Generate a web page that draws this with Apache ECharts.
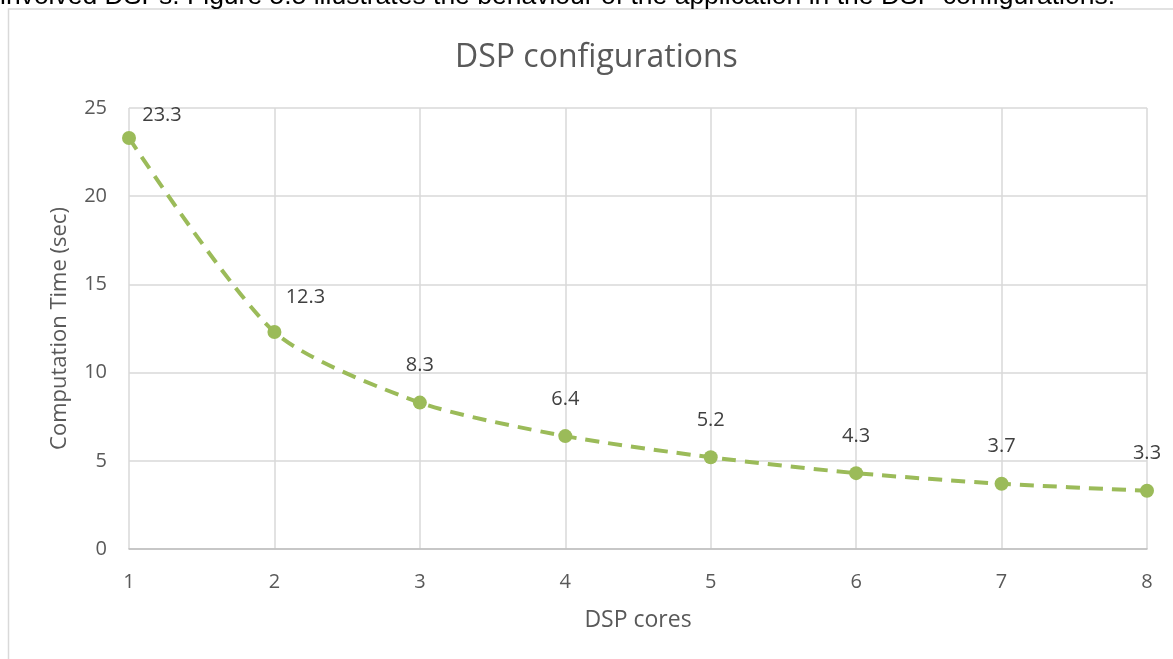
<!DOCTYPE html>
<html>
<head>
<meta charset="utf-8">
<script src="https://cdn.jsdelivr.net/npm/echarts@6/dist/echarts.min.js"></script>
<style>
html,body{margin:0;padding:0;background:#fff;}
#chart{width:1173px;height:659px;}
</style>
</head>
<body>
<div id="chart"></div>
<script>
var titleText = 'DSP configurations';
var caption = 'involved DSPs. Figure 5.5 illustrates the behaviour of the application in the DSP configurations.';
var categories = ['1', '2', '3', '4', '5', '6', '7', '8'];
var times = [23.3, 12.3, 8.3, 6.4, 5.2, 4.3, 3.7, 3.3];
var xName = 'DSP cores';
var yName = 'Computation Time (sec)';

var labelOffsets = [[33, 14], [31, 2], [0, 0], [0, 0], [0, 0], [0, 0], [0, 0], [0, 0]];
var seriesData = times.map(function (v, i) {
  return { value: v, label: { offset: labelOffsets[i] } };
});

var txt = '#595959';
var font = '"Open Sans", "Noto Sans", sans-serif';
var chart = echarts.init(document.getElementById('chart'));
chart.setOption({
  animation: false,
  backgroundColor: '#fff',
  title: {
    text: titleText,
    left: 450,
    top: 37,
    textStyle: { color: txt, fontSize: 32, fontWeight: 'normal', fontFamily: font }
  },
  graphic: [
    { type: 'rect', shape: { x: 8.5, y: 9, width: 1300, height: 800 },
      style: { fill: 'none', stroke: '#d9d9d9', lineWidth: 1.5 }, z: 0 },
    { type: 'text', left: 0, top: -17,
      style: { text: caption, font: '26.5px "Liberation Sans", Arial, sans-serif', fill: '#000' }, z: 10 }
  ],
  grid: { left: 129, right: 26, top: 108, bottom: 110 },
  xAxis: {
    type: 'category',
    data: categories,
    boundaryGap: false,
    name: xName,
    nameLocation: 'middle',
    nameGap: 60,
    nameTextStyle: { color: txt, fontSize: 23, fontFamily: font },
    axisLine: { show: true, lineStyle: { color: '#bfbfbf', width: 1.5 } },
    axisTick: { show: false },
    axisLabel: { color: txt, fontSize: 20, fontFamily: font, margin: 23 },
    splitLine: { show: true, lineStyle: { color: '#d9d9d9', width: 1.5 } }
  },
  yAxis: {
    type: 'value',
    min: 0,
    max: 25,
    interval: 5,
    name: yName,
    nameLocation: 'middle',
    nameGap: 58,
    nameTextStyle: { color: txt, fontSize: 22, fontFamily: font },
    axisLine: { show: false },
    axisTick: { show: false },
    axisLabel: { color: txt, fontSize: 20, fontFamily: font, margin: 22 },
    splitLine: { show: true, lineStyle: { color: '#d9d9d9', width: 1.5 } }
  },
  series: [{
    type: 'line',
    data: seriesData,
    smooth: 0.25,
    symbol: 'circle',
    symbolSize: 14,
    itemStyle: { color: '#9bbb59' },
    lineStyle: { color: '#9bbb59', width: 4, type: [14, 9] },
    label: {
      show: true,
      position: 'top',
      distance: 20,
      color: '#404040',
      fontSize: 20,
      fontFamily: font
    },
    z: 5
  }]
});
</script>
</body>
</html>
